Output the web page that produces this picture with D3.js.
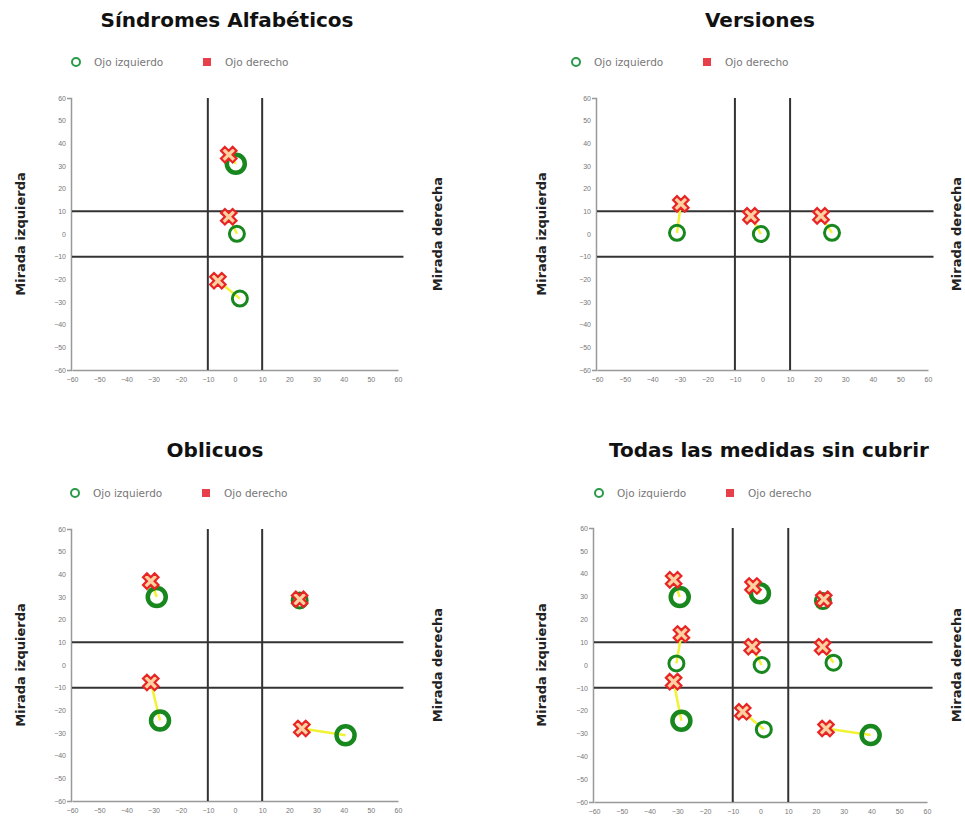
<!DOCTYPE html>
<meta charset="utf-8">
<style>
body { margin: 0; background: #fff; }
svg { font-family: "DejaVu Sans", Verdana, sans-serif; }
.title { font-size: 20px; font-weight: bold; fill: #111; text-anchor: middle; }
.legend text { font-size: 10.5px; fill: #777; }
.axis text { font-size: 7px; fill: #777; }
.axis path, .axis line { stroke: #999; stroke-width: 1.5; fill: none; }
.ylab { font-size: 13px; font-weight: bold; fill: #222; text-anchor: middle; }
.guide { stroke: #333; stroke-width: 2; }
.link { stroke: #f2f235; stroke-width: 2.5; }
.izq { fill: none; stroke: #17871e; }
.der { fill: #ffd0a0; stroke: #e82424; stroke-width: 2.2; }
</style>
<body>
<svg width="965" height="823"></svg>
<script src="https://d3js.org/d3.v7.min.js"></script>
<script>

var eyeLabels = ["Ojo izquierdo", "Ojo derecho"];
var sideLabels = ["Mirada izquierda", "Mirada derecha"];
var tickValues = [-60, -50, -40, -30, -20, -10, 0, 10, 20, 30, 40, 50, 60];
var guideValues = [-10, 10];

// [x, y] per gaze position, right eye then left eye, weight = emphasis of left-eye ring
var sindromesDer = [[-2.3, 35], [-2.3, 7.6], [-6.3, -20.6]];
var sindromesIzq = [[0.3, 31], [0.7, 0.1], [1.8, -28.5]];
var sindromesPeso = [2, 1, 1];

var versionesDer = [[-29.6, 13.3], [-4.2, 8], [21.2, 8]];
var versionesIzq = [[-31, 0.5], [-0.6, 0], [25.2, 0.5]];
var versionesPeso = [1, 1, 1];

var oblicuosDer = [[-31, 37], [-31, -7.7], [23.8, 29], [24.6, -28]];
var oblicuosIzq = [[-28.8, 30], [-27.6, -24.5], [23.8, 28.5], [40.7, -31]];
var oblicuosPeso = [2, 2, 1, 2];

var todasDer = [[-31.3, 37.3], [-2.7, 34.6], [22.8, 28.8], [-28.5, 13.6], [-3, 8], [22.4, 8],
                [-31.3, -7.3], [-6.4, -20.5], [23.6, -27.8]];
var todasIzq = [[-29.1, 29.8], [-0.2, 31.4], [22.5, 28], [-30.3, 0.7], [0.4, 0], [26.3, 1],
                [-28.5, -24.4], [1.2, -28.2], [39.7, -30.7]];
var todasPeso = [2, 2, 1, 1, 1, 1, 2, 1, 2];

var panels = [
  {title: "Síndromes Alfabéticos", tx: 227, ty: 27, lx: 76, ly: 62, xr: [72, 398], yr: [98, 370], al: 20, ar: 437,
   der: sindromesDer, izq: sindromesIzq, peso: sindromesPeso},
  {title: "Versiones", tx: 760, ty: 27, lx: 576, ly: 62, xr: [597, 928], yr: [98, 370], al: 541, ar: 956,
   der: versionesDer, izq: versionesIzq, peso: versionesPeso},
  {title: "Oblicuos", tx: 215, ty: 457, lx: 75, ly: 493, xr: [72, 398], yr: [529, 801], al: 20, ar: 437,
   der: oblicuosDer, izq: oblicuosIzq, peso: oblicuosPeso},
  {title: "Todas las medidas sin cubrir", tx: 769, ty: 457, lx: 599, ly: 493, xr: [594, 927], yr: [528, 802], al: 541, ar: 956,
   der: todasDer, izq: todasIzq, peso: todasPeso}
];

var svg = d3.select("svg");
var cross = d3.symbol().type(d3.symbolCross).size(150);

panels.forEach(function(p) {
  var g = svg.append("g");
  var x = d3.scaleLinear().domain([-60, 60]).range(p.xr);
  var y = d3.scaleLinear().domain([-60, 60]).range([p.yr[1], p.yr[0]]);

  g.append("text").attr("class", "title").attr("x", p.tx).attr("y", p.ty).text(p.title);

  var lg = g.append("g").attr("class", "legend");
  lg.append("circle").attr("cx", p.lx).attr("cy", p.ly).attr("r", 4)
    .attr("fill", "none").attr("stroke", "#2a9a4a").attr("stroke-width", 2);
  lg.append("text").attr("x", p.lx + 18).attr("y", p.ly + 3.5).text(eyeLabels[0]);
  lg.append("rect").attr("x", p.lx + 127).attr("y", p.ly - 4).attr("width", 8).attr("height", 8)
    .attr("fill", "#e8404a");
  lg.append("text").attr("x", p.lx + 149).attr("y", p.ly + 3.5).text(eyeLabels[1]);

  g.append("text").attr("class", "ylab")
    .attr("transform", "translate(" + p.al + "," + d3.mean(p.yr) + ") rotate(-90)")
    .attr("dy", "0.35em").text(sideLabels[0]);
  g.append("text").attr("class", "ylab")
    .attr("transform", "translate(" + p.ar + "," + d3.mean(p.yr) + ") rotate(-90)")
    .attr("dy", "0.35em").text(sideLabels[1]);

  g.append("g").attr("class", "axis")
    .attr("transform", "translate(" + (p.xr[0] - 1) + ",0)")
    .call(d3.axisLeft(y).tickValues(tickValues).tickSizeInner(0).tickSizeOuter(4).tickPadding(5));
  g.append("g").attr("class", "axis")
    .attr("transform", "translate(0," + p.yr[1] + ")")
    .call(d3.axisBottom(x).tickValues(tickValues).tickSizeInner(0).tickSizeOuter(0).tickPadding(7));

  g.selectAll(".gv").data(guideValues).enter().append("line").attr("class", "guide")
    .attr("x1", function(d) { return x(d); }).attr("x2", function(d) { return x(d); })
    .attr("y1", y(60)).attr("y2", y(-60));
  g.selectAll(".gh").data(guideValues).enter().append("line").attr("class", "guide")
    .attr("x1", x(-60)).attr("x2", x(62))
    .attr("y1", function(d) { return y(d); }).attr("y2", function(d) { return y(d); });

  var pairs = p.der.map(function(d, i) { return {der: d, izq: p.izq[i], peso: p.peso[i]}; });

  g.selectAll(".link").data(pairs).enter().append("line").attr("class", "link")
    .attr("x1", function(d) { return x(d.der[0]); }).attr("y1", function(d) { return y(d.der[1]); })
    .attr("x2", function(d) { return x(d.izq[0]); }).attr("y2", function(d) { return y(d.izq[1]); });

  g.selectAll(".izq").data(pairs).enter().append("circle").attr("class", "izq")
    .attr("cx", function(d) { return x(d.izq[0]); }).attr("cy", function(d) { return y(d.izq[1]); })
    .attr("r", function(d) { return d.peso > 1 ? 9 : 7.5; })
    .attr("stroke-width", function(d) { return d.peso > 1 ? 4.5 : 3; });

  g.selectAll(".der").data(pairs).enter().append("path").attr("class", "der")
    .attr("d", cross)
    .attr("transform", function(d) {
      return "translate(" + x(d.der[0]) + "," + y(d.der[1]) + ") rotate(45)";
    });
});

</script>
